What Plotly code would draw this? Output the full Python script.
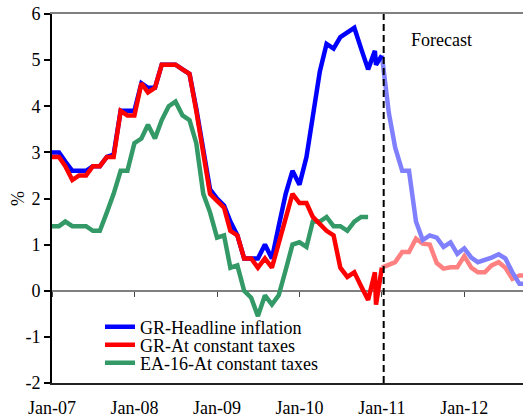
import pandas as pd
import plotly.graph_objects as go

# ---------------- data ----------------
months_hist = pd.date_range("2007-01-01", "2010-12-01", freq="MS").strftime("%Y-%m-%d").tolist()
months_fc = pd.date_range("2011-01-01", "2012-10-01", freq="MS").strftime("%Y-%m-%d").tolist()

gr_headline = [3.0, 3.0, 2.8, 2.6, 2.6, 2.6, 2.7, 2.7, 2.9, 2.95, 3.9, 3.9,
               3.9, 4.5, 4.4, 4.4, 4.9, 4.9, 4.9, 4.8, 4.7, 3.95, 3.1, 2.2,
               2.0, 1.85, 1.5, 1.2, 0.7, 0.7, 0.7, 1.0, 0.7, 1.4, 2.1, 2.6,
               2.3, 2.9, 3.8, 4.75, 5.35, 5.25, 5.5, 5.6, 5.7, 5.25, 4.8, 5.2]
gr_headline_tail_x = ["2010-12-06", "2011-01-01"]
gr_headline_tail = [4.9, 5.1]

gr_const = [2.9, 2.9, 2.7, 2.4, 2.5, 2.5, 2.7, 2.7, 2.9, 2.9, 3.9, 3.8,
            3.8, 4.5, 4.3, 4.4, 4.9, 4.9, 4.9, 4.8, 4.7, 3.9, 3.05, 2.1,
            1.95, 1.8, 1.3, 1.2, 0.7, 0.7, 0.5, 0.7, 0.5, 1.0, 1.55, 2.1,
            1.9, 1.9, 1.6, 1.45, 1.3, 1.2, 0.5, 0.3, 0.4, 0.1, -0.2, 0.4]
gr_const_tail_x = ["2010-12-06", "2011-01-01"]
gr_const_tail = [-0.3, 0.5]

ea16_const = [1.4, 1.4, 1.5, 1.4, 1.4, 1.4, 1.3, 1.3, 1.7, 2.1, 2.6, 2.6,
              3.2, 3.3, 3.6, 3.3, 3.7, 4.0, 4.1, 3.8, 3.7, 3.2, 2.1, 1.7,
              1.15, 1.2, 0.5, 0.55, 0.0, -0.15, -0.55, -0.1, -0.3, -0.1, 0.45, 1.0,
              1.05, 0.95, 1.5, 1.5, 1.6, 1.4, 1.4, 1.3, 1.5, 1.6, 1.6]

gr_headline_fc = [5.1, 3.85, 3.1, 2.6, 2.6, 1.5, 1.1, 1.2, 1.15, 0.95, 1.05, 0.8,
                  0.92, 0.72, 0.62, 0.66, 0.72, 0.79, 0.7, 0.4, 0.15, 0.15]
gr_const_fc = [0.5, 0.55, 0.62, 0.84, 0.84, 1.13, 1.02, 1.0, 0.6, 0.48, 0.51, 0.51,
               0.75, 0.5, 0.4, 0.4, 0.55, 0.62, 0.5, 0.26, 0.33, 0.33]

series_names = ["GR-Headline inflation", "GR-At constant taxes", "EA-16-At constant taxes"]
forecast_start = "2011-01-09"
forecast_label = "Forecast"
y_title = "%"
x_tick_labels = ["Jan-07", "Jan-08", "Jan-09", "Jan-10", "Jan-11", "Jan-12"]
x_tick_vals = ["2007-01-01", "2008-01-01", "2009-01-01", "2010-01-01", "2011-01-01", "2012-01-01"]
y_tick_vals = [-2, -1, 0, 1, 2, 3, 4, 5, 6]
y_tick_labels = ["-2", "-1", "0", "1", "2", "3", "4", "5", "6"]

# ---------------- styling ----------------
FONT = "Liberation Serif, Times New Roman, serif"
BLUE, RED, GREEN = "#0000FF", "#FF0000", "#339966"
LBLUE, LRED = "#8080FF", "#FF8080"
LW = 4.5

fig = go.Figure()

# forecast (lighter) first so actual draws on top
fig.add_trace(go.Scatter(x=months_fc, y=gr_const_fc, mode="lines",
                         line=dict(color=LRED, width=LW), showlegend=False))
fig.add_trace(go.Scatter(x=months_fc, y=gr_headline_fc, mode="lines",
                         line=dict(color=LBLUE, width=LW), showlegend=False))

fig.add_trace(go.Scatter(x=months_hist[:len(ea16_const)], y=ea16_const, mode="lines",
                         name=series_names[2], legend="legend3",
                         line=dict(color=GREEN, width=LW)))
fig.add_trace(go.Scatter(x=months_hist + gr_headline_tail_x, y=gr_headline + gr_headline_tail,
                         mode="lines", name=series_names[0], legend="legend",
                         line=dict(color=BLUE, width=LW)))
fig.add_trace(go.Scatter(x=months_hist + gr_const_tail_x, y=gr_const + gr_const_tail,
                         mode="lines", name=series_names[1], legend="legend2",
                         line=dict(color=RED, width=LW)))

# empty traces hosting the zero-line tick axis and the top border axis
fig.add_trace(go.Scatter(x=[], y=[], xaxis="x2", yaxis="y", showlegend=False, hoverinfo="skip"))
fig.add_trace(go.Scatter(x=[], y=[], xaxis="x3", yaxis="y", showlegend=False, hoverinfo="skip"))

W, H = 523, 420
ml, mt, mb, mr = 52, 14, 37, 0
pw = W - ml - mr
ph = H - mt - mb

def lx(px):
    return (px - ml) / pw

def ly(py):
    return (H - mb - py) / ph

xrange = ["2007-01-01", "2012-09-17"]

leg_common = dict(bgcolor="rgba(0,0,0,0)", borderwidth=0, xanchor="left", yanchor="middle",
                  font=dict(family=FONT, size=18, color="black"), itemwidth=30,
                  tracegroupgap=0)

fig.update_layout(
    width=W, height=H,
    margin=dict(l=ml, r=mr, t=mt, b=mb, pad=0),
    paper_bgcolor="white", plot_bgcolor="white",
    font=dict(family=FONT, size=18, color="black"),
    xaxis=dict(type="date", range=xrange, tickvals=x_tick_vals, ticktext=x_tick_labels,
               ticks="", showgrid=False, zeroline=False,
               showline=True, linecolor="#222222", linewidth=1.5,
               tickfont=dict(family=FONT, size=18, color="black"),
               ticklabelstandoff=8),
    xaxis2=dict(type="date", overlaying="x", matches="x", anchor="free", position=0.25,
                tickvals=x_tick_vals, ticks="outside", ticklen=5, tickwidth=1.2,
                tickcolor="#444444", showticklabels=False, showline=False,
                showgrid=False, zeroline=False),
    xaxis3=dict(type="date", overlaying="x", matches="x", anchor="y", side="top",
                ticks="", showticklabels=False, showline=True, linecolor="#808080",
                linewidth=1.5, showgrid=False, zeroline=False),
    yaxis=dict(range=[-2, 6], tickvals=y_tick_vals, ticktext=y_tick_labels,
               ticks="outside", ticklen=6, tickwidth=1.5,
               tickcolor="black", showline=True, linecolor="black", linewidth=2,
               showgrid=False, zeroline=True, zerolinecolor="#808080", zerolinewidth=1.5,
               tickfont=dict(family=FONT, size=18, color="black")),
    legend=dict(x=lx(100), y=ly(327), **leg_common),
    legend2=dict(x=lx(100), y=ly(345), **leg_common),
    legend3=dict(x=lx(100), y=ly(363), **leg_common),
    shapes=[dict(type="line", xref="x", yref="y", x0=forecast_start, x1=forecast_start,
                 y0=-2, y1=6, line=dict(color="black", width=2, dash="7px,4px"))],
    annotations=[
        dict(text=forecast_label, xref="x", yref="y", x="2011-09-24", y=5.44,
             showarrow=False, font=dict(family=FONT, size=18, color="black")),
        dict(text=y_title, xref="paper", yref="paper", x=lx(18), y=ly(199),
             textangle=-90, showarrow=False, xanchor="center", yanchor="middle",
             font=dict(family=FONT, size=18, color="black")),
    ],
)

fig.write_html("out.html", config={"displayModeBar": False},
               post_script="document.body.style.margin='0';document.body.style.padding='0';")
